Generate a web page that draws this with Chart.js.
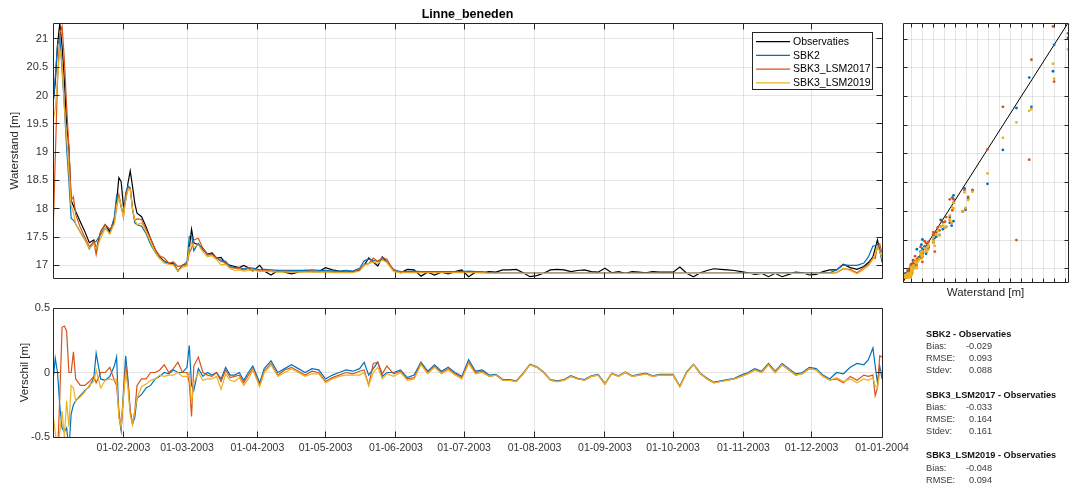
<!DOCTYPE html>
<html lang="nl">
<head>
<meta charset="utf-8">
<title>Linne_beneden</title>
<script src="https://cdn.jsdelivr.net/npm/chart.js@4.4.1/dist/chart.umd.min.js"></script>
<style>
  html, body { margin: 0; padding: 0; background: #fff; }
  #figuur { position: relative; width: 1072px; height: 490px; overflow: hidden; background: #fff; }
  #figuur canvas { position: absolute; }
  .stat { position: absolute; font-family: "Liberation Sans", Arial, sans-serif; font-size: 9.2px; line-height: 9.2px; color: #3a3a3a; white-space: nowrap; }
  .stat.kop { font-weight: bold; color: #111; }
  .stat.waarde { width: 40px; text-align: right; }
</style>
</head>
<body>
<div id="figuur">
  <canvas id="tijdreeks" width="886" height="290" style="left:0;top:0"></canvas>
  <canvas id="verschil" width="920" height="200" style="left:0;top:290px"></canvas>
  <canvas id="spreiding" width="182" height="300" style="left:890px;top:0"></canvas>
  <div id="statistiek"></div>
</div>
<script>
// dagen sinds 01-01-2003
const dagen = [
  0, 1, 2, 3, 4, 5, 6, 7, 8, 9, 10, 12, 14, 16, 18, 19, 21, 23, 25, 27,
  28, 29, 30, 31, 32, 33, 34, 35, 36, 37, 39, 41, 43, 45, 47, 49, 51, 53, 55, 57,
  59, 60, 61, 62, 64, 66, 68, 70, 72, 74, 76, 78, 80, 82, 84, 86, 88, 91,
  93, 96, 99, 102, 105, 108, 111, 114, 117, 120, 123, 126, 129, 132, 135, 137, 139, 141, 143, 145, 147, 150,
  153, 156, 159, 162, 165, 168, 171, 174, 177, 180, 183, 186, 189, 192, 195, 198, 201, 204, 207, 210,
  213, 216, 219, 222, 225, 228, 231, 234, 237, 240, 243, 246, 249, 252, 255, 258, 261, 264, 267, 270,
  273, 276, 279, 282, 285, 288, 291, 294, 297, 300, 303, 306, 309, 312, 315, 318, 321, 324, 327, 330,
  333, 336, 339, 342, 345, 348, 351, 354, 357, 359, 361, 362, 363, 364, 365
];

// gemeten waterstand [m]
const observaties = [
  19.87, 20.22, 20.9, 21.28, 20.87, 20.28, 19.5, 19.08, 18.15, 18.05, 17.95, 17.77, 17.6, 17.4, 17.45, 17.27, 17.6, 17.72, 17.6, 17.8,
  18.12, 18.55, 18.48, 18.05, 18.15, 18.45, 18.67, 18.4, 18.1, 17.92, 17.86, 17.68, 17.47, 17.28, 17.15, 17.07, 17.04, 17.03, 16.9, 17.0,
  17.02, 17.3, 17.64, 17.4, 17.36, 17.3, 17.2, 17.22, 17.13, 17.14, 17.03, 17.0, 16.98, 16.96, 17.0, 16.96, 16.9, 17.0,
  16.9, 16.83, 16.91, 16.88, 16.85, 16.88, 16.91, 16.89, 16.89, 16.96, 16.92, 16.9, 16.89, 16.89, 16.92, 17.0, 17.13, 17.06, 16.99, 17.15, 17.06, 16.92,
  16.87, 16.93, 16.92, 16.81, 16.88, 16.83, 16.88, 16.85, 16.89, 16.92, 16.8, 16.88, 16.87, 16.89, 16.88, 16.92, 16.92, 16.93, 16.87, 16.8,
  16.82, 16.86, 16.92, 16.93, 16.92, 16.89, 16.91, 16.92, 16.89, 16.88, 16.95, 16.87, 16.89, 16.86, 16.89, 16.88, 16.87, 16.89, 16.88, 16.88,
  16.88, 16.97, 16.86, 16.8, 16.87, 16.91, 16.94, 16.93, 16.92, 16.91, 16.89, 16.87, 16.84, 16.86, 16.8, 16.86, 16.8, 16.84, 16.88, 16.87,
  16.83, 16.84, 16.89, 16.92, 16.92, 17.02, 16.96, 16.93, 16.98, 17.05, 17.15, 17.3, 17.45, 17.25, 17.1
];

// verschil model - observaties [m]
const verschilSBK2 = [
  -0.07, 0.11, 0.0, -0.26, -0.43, -0.46, -0.43, -0.6, -0.32, -0.25, -0.22, -0.18, -0.14, -0.11, -0.04, 0.15, -0.05, -0.06, -0.03, 0.05,
  0.12, -0.33, -0.45, -0.15, 0.13, -0.05, -0.3, -0.4, -0.35, -0.2, -0.17, -0.12, -0.1, -0.05, -0.03, 0.0, -0.01, 0.02, 0.0, 0.0,
  0.04, 0.21, -0.1, -0.14, 0.03, -0.03, 0.0, -0.02, 0.0, -0.05, 0.04, -0.02, -0.02, 0.0, -0.06, 0.0, 0.05, -0.08,
  0.03, 0.09, 0.0, 0.03, 0.06, 0.03, 0.0, 0.03, 0.02, -0.05, -0.02, 0.0, 0.02, 0.01, 0.03, 0.08, -0.02, 0.03, 0.08, -0.03, 0.0, 0.0,
  0.02, -0.04, -0.02, 0.08, 0.01, 0.06, 0.01, 0.04, 0.0, -0.03, 0.1, 0.01, 0.02, -0.02, -0.015, -0.055, -0.055, -0.065, -0.005, 0.065,
  0.045, 0.005, -0.055, -0.065, -0.055, -0.025, -0.045, -0.055, -0.025, -0.015, -0.085, -0.005, -0.025, 0.005, -0.025, -0.015, -0.005, -0.025, -0.015, -0.015,
  -0.015, -0.105, 0.005, 0.065, -0.005, -0.045, -0.075, -0.065, -0.055, -0.045, -0.02, 0.0, 0.03, 0.01, 0.07, 0.01, 0.07, 0.03, -0.01, 0.0,
  0.04, 0.03, -0.02, -0.05, 0.0, -0.01, 0.04, 0.07, 0.06, 0.1, 0.19, 0.05, -0.08, 0.05, -0.05
];
const verschilLSM2017 = [
  -2.37, -1.32, -0.64, -0.18, 0.35, 0.36, 0.32, 0.0, 0.0, 0.16, -0.05, -0.1, -0.1, -0.07, -0.03, -0.08, 0.0, 0.0, 0.04, -0.06,
  -0.1, -0.3, -0.43, -0.2, 0.06, -0.08, -0.3, -0.4, -0.3, -0.1, -0.05, -0.05, 0.0, 0.0, 0.02, 0.06, 0.0, 0.03, 0.08, 0.0,
  0.0, -0.08, -0.34, 0.05, 0.12, 0.0, -0.02, -0.03, 0.0, -0.07, 0.02, -0.04, -0.03, -0.02, -0.08, -0.02, 0.03, -0.1,
  0.01, 0.07, -0.02, 0.02, 0.04, 0.01, -0.02, 0.01, 0.0, -0.07, -0.04, -0.02, 0.0, -0.01, 0.01, 0.02, -0.1, 0.07, 0.08, -0.01, 0.05, -0.01,
  0.01, -0.05, -0.04, 0.07, 0.0, 0.05, 0.0, 0.03, -0.01, -0.04, 0.08, 0.0, 0.01, -0.03, -0.02, -0.06, -0.06, -0.07, -0.01, 0.06,
  0.04, 0.0, -0.06, -0.07, -0.06, -0.03, -0.05, -0.06, -0.03, -0.02, -0.09, -0.01, -0.03, 0.0, -0.03, -0.02, -0.01, -0.03, -0.02, -0.02,
  -0.02, -0.11, 0.0, 0.06, -0.01, -0.05, -0.08, -0.07, -0.06, -0.05, -0.03, -0.01, 0.02, 0.0, 0.06, 0.0, 0.06, 0.02, -0.02, -0.01,
  0.03, 0.02, -0.03, -0.06, -0.05, -0.08, -0.03, -0.06, -0.02, -0.03, -0.02, -0.18, -0.12, 0.13, 0.12
];
const verschilLSM2019 = [
  -0.32, -0.47, -0.59, -0.46, -0.3, -0.5, -0.22, -0.42, -0.1, -0.12, -0.22, -0.19, -0.15, -0.1, -0.07, 0.02, -0.12, -0.06, -0.05, -0.06,
  -0.05, -0.35, -0.42, -0.19, 0.0, -0.12, -0.33, -0.4, -0.3, -0.2, -0.11, -0.09, -0.06, -0.05, -0.02, -0.03, -0.02, -0.02, 0.0, -0.03,
  -0.03, 0.0, -0.24, -0.08, 0.0, -0.06, -0.05, -0.05, -0.03, -0.13, -0.01, -0.06, -0.07, -0.04, -0.1, -0.05, 0.02, -0.11,
  0.0, 0.06, -0.03, 0.0, 0.03, 0.0, -0.03, -0.01, -0.01, -0.08, -0.05, -0.03, -0.02, -0.02, -0.02, 0.0, -0.1, 0.0, 0.04, -0.05, -0.01, -0.03,
  0.0, -0.06, -0.05, 0.06, -0.01, 0.04, -0.01, 0.02, -0.02, -0.05, 0.07, -0.01, 0.0, -0.03, -0.02, -0.06, -0.06, -0.07, -0.01, 0.06,
  0.04, 0.0, -0.06, -0.07, -0.06, -0.03, -0.05, -0.06, -0.03, -0.02, -0.09, -0.01, -0.03, 0.0, -0.03, -0.02, -0.01, -0.03, -0.02, -0.02,
  -0.02, -0.11, 0.0, 0.06, -0.01, -0.05, -0.08, -0.07, -0.06, -0.05, -0.03, -0.01, 0.02, 0.0, 0.06, 0.0, 0.06, 0.02, -0.02, -0.01,
  0.03, 0.02, -0.03, -0.06, -0.04, -0.07, -0.05, -0.08, -0.05, -0.06, -0.04, -0.1, -0.12, 0.0, 0.02
];

// as-indeling
const maandDagen = [31, 59, 90, 120, 151, 181, 212, 243, 273, 304, 334, 365];
const maandLabels = ['01-02-2003', '01-03-2003', '01-04-2003', '01-05-2003', '01-06-2003', '01-07-2003',
  '01-08-2003', '01-09-2003', '01-10-2003', '01-11-2003', '01-12-2003', '01-01-2004'];
const waterstandTicks = [17, 17.5, 18, 18.5, 19, 19.5, 20, 20.5, 21];
const spreidingXTicks = [17, 17.3, 17.6, 17.9, 18.2, 18.5, 18.8, 19.1, 19.4, 19.7, 20, 20.3, 20.6, 20.9, 21.2];
const verschilTicks = [-0.5, 0, 0.5];
const asMin = 16.77, asMax = 21.28;

// statistiek
const statNamen = ['SBK2 - Observaties', 'SBK3_LSM2017 - Observaties', 'SBK3_LSM2019 - Observaties'];
const statBias = [-0.029, -0.033, -0.048];
const statRMSE = [0.093, 0.164, 0.094];
const statStdev = [0.088, 0.161, null];

const kleurObs = '#000000';
const kleurSBK2 = '#0072BD';
const kleur2017 = '#D95319';
const kleur2019 = '#EDB120';
const gridKleur = 'rgba(0,0,0,0.1)';
const asKleur = '#262626';
const fontFam = '"Liberation Sans", Arial, Helvetica, sans-serif';

Chart.defaults.font.family = fontFam;
Chart.defaults.color = '#333';
Chart.defaults.animation = false;

const modelSBK2 = observaties.map((v, i) => +(v + verschilSBK2[i]).toFixed(3));
const model2017 = observaties.map((v, i) => +(v + verschilLSM2017[i]).toFixed(3));
const model2019 = observaties.map((v, i) => +(v + verschilLSM2019[i]).toFixed(3));

const reeks = (waarden) => dagen.map((d, i) => ({x: d, y: waarden[i]}));
const punten = (model) => observaties.map((o, i) => ({x: o, y: model[i]}));
const zetTicks = (lijst) => (scale) => { scale.ticks = lijst.map((v) => ({value: v})); };
const getal = (v) => String(v);

// kader met naar binnen gerichte tickjes (matlab-stijl)
const kaderPlugin = {
  id: 'kader',
  afterDatasetsDraw(chart, args, opts) {
    const {ctx, chartArea: a} = chart;
    const xs = chart.scales.x, ys = chart.scales.y;
    const al = (p) => Math.round(p - 0.5) + 0.5;
    const L = al(a.left), R = al(a.right), T = al(a.top), B = al(a.bottom);
    const tl = opts.tickLen || 6;
    ctx.save();
    ctx.strokeStyle = asKleur;
    ctx.lineWidth = 1;
    ctx.beginPath();
    xs.ticks.forEach((t) => {
      const p = al(xs.getPixelForValue(t.value));
      ctx.moveTo(p, T); ctx.lineTo(p, T + tl);
      ctx.moveTo(p, B); ctx.lineTo(p, B - tl);
    });
    ys.ticks.forEach((t) => {
      const p = al(ys.getPixelForValue(t.value));
      ctx.moveTo(L, p); ctx.lineTo(L + tl, p);
      ctx.moveTo(R, p); ctx.lineTo(R - tl, p);
    });
    ctx.rect(L, T, R - L, B - T);
    ctx.stroke();
    ctx.restore();
  }
};

// legenda binnen de grafiek, rechtsboven
const legendaPlugin = {
  id: 'legenda',
  afterDraw(chart, args, o) {
    if (!o || !o.w) return;
    const ctx = chart.ctx;
    ctx.save();
    ctx.fillStyle = '#fff';
    ctx.fillRect(o.x, o.y, o.w, o.h);
    ctx.strokeStyle = asKleur;
    ctx.lineWidth = 1;
    ctx.strokeRect(o.x + 0.5, o.y + 0.5, o.w - 1, o.h - 1);
    ctx.font = o.fontSize + 'px ' + fontFam;
    ctx.textBaseline = 'middle';
    chart.data.datasets.forEach((ds, i) => {
      const y = o.y + o.eerste + i * o.rij;
      ctx.strokeStyle = ds.borderColor;
      ctx.lineWidth = 1.2;
      ctx.beginPath();
      ctx.moveTo(o.x + 4, y);
      ctx.lineTo(o.x + 38, y);
      ctx.stroke();
      ctx.fillStyle = '#000';
      ctx.fillText(ds.label, o.x + 41, y + 0.5);
    });
    ctx.restore();
  }
};

const lijn = (label, data, kleur, volgorde) => ({
  label: label, data: data, borderColor: kleur, backgroundColor: kleur,
  borderWidth: 1.2, pointRadius: 0, tension: 0, order: volgorde, clip: 0
});

// bovenste grafiek: waterstand
new Chart(document.getElementById('tijdreeks'), {
  type: 'line',
  data: {
    datasets: [
      lijn('Observaties', reeks(observaties), kleurObs, 3),
      lijn('SBK2', reeks(modelSBK2), kleurSBK2, 2),
      lijn('SBK3_LSM2017', reeks(model2017), kleur2017, 1),
      lijn('SBK3_LSM2019', reeks(model2019), kleur2019, 0)
    ]
  },
  options: {
    responsive: false,
    devicePixelRatio: 1,
    layout: {padding: {left: 0, right: 4, top: 0, bottom: 0}},
    plugins: {
      legend: {display: false},
      tooltip: {enabled: false},
      title: {
        display: true, text: 'Linne_beneden', fullSize: false, color: '#000',
        font: {size: 12.5, weight: 'bold'}, padding: {top: 7, bottom: 1}
      },
      kader: {tickLen: 6},
      legenda: {x: 752, y: 32, w: 121, h: 58, eerste: 9.7, rij: 13.7, fontSize: 10.5}
    },
    scales: {
      x: {
        type: 'linear', min: 0, max: 365,
        afterBuildTicks: zetTicks(maandDagen),
        ticks: {display: false},
        grid: {color: gridKleur, drawTicks: false},
        border: {display: false},
        afterFit: (s) => { s.height = 8; }
      },
      y: {
        type: 'linear', min: asMin, max: asMax,
        afterBuildTicks: zetTicks(waterstandTicks),
        ticks: {padding: 5, font: {size: 11}, color: '#333', callback: getal},
        grid: {color: gridKleur, drawTicks: false},
        border: {display: false},
        title: {display: true, text: 'Waterstand [m]', color: asKleur, font: {size: 11.5}, padding: {top: 8, bottom: 0}},
        afterFit: (s) => { s.width = 53; }
      }
    }
  },
  plugins: [kaderPlugin, legendaPlugin]
});

// onderste grafiek: verschil
new Chart(document.getElementById('verschil'), {
  type: 'line',
  data: {
    datasets: [
      lijn('SBK2', reeks(verschilSBK2), kleurSBK2, 2),
      lijn('SBK3_LSM2017', reeks(verschilLSM2017), kleur2017, 1),
      lijn('SBK3_LSM2019', reeks(verschilLSM2019), kleur2019, 0)
    ]
  },
  options: {
    responsive: false,
    devicePixelRatio: 1,
    layout: {padding: {left: 0, right: 38, top: 18, bottom: 0}},
    plugins: {legend: {display: false}, tooltip: {enabled: false}, kader: {tickLen: 6}},
    scales: {
      x: {
        type: 'linear', min: 0, max: 365,
        afterBuildTicks: zetTicks(maandDagen),
        ticks: {
          padding: 5, font: {size: 10.5}, color: '#333', autoSkip: false, maxRotation: 0,
          callback: (v, i) => maandLabels[i]
        },
        grid: {color: gridKleur, drawTicks: false},
        border: {display: false},
        afterFit: (s) => { s.height = 53; }
      },
      y: {
        type: 'linear', min: -0.5, max: 0.5,
        afterBuildTicks: zetTicks(verschilTicks),
        ticks: {padding: 3, font: {size: 11}, color: '#333', callback: getal},
        grid: {color: gridKleur, drawTicks: false},
        border: {display: false},
        title: {display: true, text: 'Verschil [m]', color: asKleur, font: {size: 11.5}, padding: {top: 18, bottom: 0}},
        afterFit: (s) => { s.width = 53; }
      }
    }
  },
  plugins: [kaderPlugin]
});

// rechtsboven: model tegen observatie
const stip = (label, data, kleur, volgorde) => ({
  label: label, data: data, backgroundColor: kleur, borderWidth: 0,
  pointRadius: 1.4, order: volgorde, clip: 0
});
new Chart(document.getElementById('spreiding'), {
  type: 'scatter',
  data: {
    datasets: [
      {label: '1:1', data: [{x: asMin, y: asMin}, {x: asMax, y: asMax}], showLine: true,
        borderColor: '#000', borderWidth: 1, pointRadius: 0, order: 4, clip: 0},
      stip('SBK2', punten(modelSBK2), kleurSBK2, 2),
      stip('SBK3_LSM2017', punten(model2017), kleur2017, 1),
      stip('SBK3_LSM2019', punten(model2019), kleur2019, 0)
    ]
  },
  options: {
    responsive: false,
    devicePixelRatio: 1,
    layout: {padding: {left: 0, right: 3, top: 23, bottom: 0}},
    plugins: {legend: {display: false}, tooltip: {enabled: false}, kader: {tickLen: 4}},
    scales: {
      x: {
        type: 'linear', min: asMin, max: asMax,
        afterBuildTicks: zetTicks(spreidingXTicks),
        ticks: {display: false},
        grid: {color: gridKleur, drawTicks: false},
        border: {display: false},
        title: {display: true, text: 'Waterstand [m]', color: asKleur, font: {size: 11.5}, padding: {top: 0, bottom: 0}},
        afterFit: (s) => { s.height = 18; }
      },
      y: {
        type: 'linear', min: asMin, max: asMax,
        afterBuildTicks: zetTicks(waterstandTicks),
        ticks: {display: false},
        grid: {color: gridKleur, drawTicks: false},
        border: {display: false},
        afterFit: (s) => { s.width = 13; }
      }
    }
  },
  plugins: [kaderPlugin]
});

// statistiek tekstblok
const statBlok = document.getElementById('statistiek');
function zetTekst(tekst, x, y, klasse) {
  const el = document.createElement('div');
  el.className = 'stat' + (klasse ? ' ' + klasse : '');
  el.textContent = tekst;
  el.style.left = x + 'px';
  el.style.top = (y - 4.5) + 'px';
  statBlok.appendChild(el);
}
statNamen.forEach((naam, k) => {
  const y0 = 334.3 + k * 60.8;
  zetTekst(naam, 926, y0, 'kop');
  const rijen = [['Bias:', statBias[k]], ['RMSE:', statRMSE[k]], ['Stdev:', statStdev[k]]];
  rijen.forEach(([lab, val], j) => {
    if (val === null) return;
    const y = y0 + 12.1 * (j + 1);
    zetTekst(lab, 926, y);
    zetTekst(val.toFixed(3), 952, y, 'waarde');
  });
});
</script>
</body>
</html>
